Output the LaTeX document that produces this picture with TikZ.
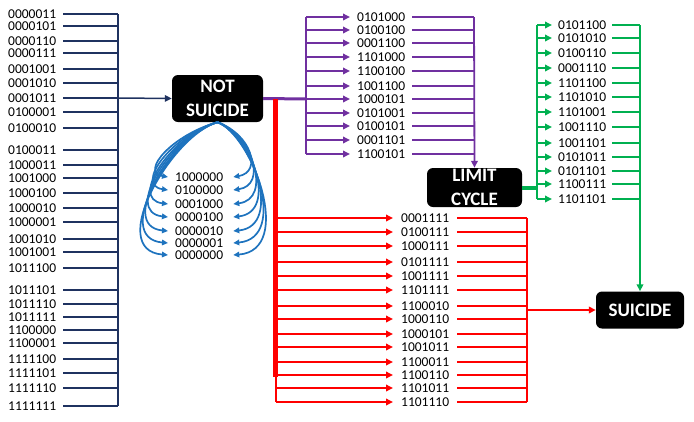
\documentclass[tikz,border=0pt]{standalone}
\usepackage{fontspec}
\setmainfont{Carlito}
\usetikzlibrary{arrows.meta,calc}
\definecolor{navyc}{RGB}{31,50,96}
\definecolor{purplec}{RGB}{112,48,160}
\definecolor{redc}{RGB}{255,0,0}
\definecolor{greenc}{RGB}{0,176,80}
\definecolor{bluec}{RGB}{30,115,190}
\begin{document}
\begin{tikzpicture}[x=1pt,y=-1pt,
  lab/.style={inner sep=0pt, anchor=west, font=\fontsize{13.5}{14}\selectfont},
  box/.style={fill=black, text=white, rounded corners=6pt, align=center, inner sep=0pt,
    font=\fontsize{19}{23.5}\selectfont\bfseries},
  navyline/.style={draw=navyc, line width=1.5pt},
  purpleline/.style={draw=purplec, line width=1.8pt},
  redline/.style={draw=redc, line width=2pt},
  greenline/.style={draw=greenc, line width=2.2pt},
  tip/.style={-{Triangle[length=7pt,width=6.5pt]}},
  bluearr/.style={draw=bluec, line width=1.7pt, -{Triangle[length=6pt,width=5.5pt]}}]
\useasboundingbox (0,0) rectangle (694,421);

% boxes
\node[box, minimum width=91pt, minimum height=47pt] (ns) at (217.5,98.5) {NOT\\SUICIDE};
\node[box, minimum width=95pt, minimum height=39pt] (lc) at (474.5,187.5) {LIMIT\\CYCLE};
\node[box, minimum width=88pt, minimum height=37pt] (su) at (640,310) {SUICIDE};

% left navy column
\foreach \t/\y [count=\i] in {0000011/14,0000101/26,0000110/41,0000111/53,0001001/69,0001010/83,0001011/98,0100001/112,0100010/128,0100011/150,1000011/165,1001000/178,1000100/193,1000010/208,1000001/222,1001010/239,1001001/252,1011100/268,1011101/290,1011110/304,1011111/317,1100000/330,1100001/343,1111100/359,1111101/373,1111110/388,1111111/406} {
  \node[lab] (L\i) at (8,\y) {\t};
  \coordinate (LB\i) at (118,\y);
  \draw[navyline] ($(L\i.east)+(7,0)$) -- (LB\i);
}
\draw[navyline] (LB1) -- (LB27);
\draw[navyline, tip] (LB7) -- (ns.west);

% blue self loops
\foreach \t/\y [count=\i from 0] in {1000000/177,0100000/190,0001000/204,0000100/217,0000010/231,0000001/243,0000000/255} {
  \node[lab] (B\i) at (175,\y) {\t};
  \pgfmathsetmacro\xl{140-\i*35/6}
  \pgfmathsetmacro\xr{262+\i*33/6}
  \draw[bluearr] (ns.south) .. controls (172,135) and (\xl,\y-5) .. ($(B\i.west)+(-7,0)$);
  \draw[bluearr] (ns.south) .. controls (252,135) and (\xr,\y-5) .. ($(B\i.east)+(10,0)$);
}

% purple branch
\coordinate (pj) at (306,99);
\draw[draw=purplec, line width=3pt] (ns.east) -- (pj);
\foreach \t/\y [count=\i] in {0101000/17,0100100/30,0001100/43,1101000/57,1100100/71,1001100/86,1000101/99,0101001/113,0100101/126,0001101/140,1100101/154} {
  \node[lab] (P\i) at (357,\y) {\t};
  \coordinate (PA\i) at (306,\y);
  \coordinate (PB\i) at (474,\y);
  \draw[purpleline, tip] (PA\i) -- ($(P\i.west)+(-7,0)$);
  \draw[purpleline] ($(P\i.east)+(7,0)$) -- (PB\i);
}
\draw[purpleline] (PA1) -- (PA11);
\draw[purpleline, tip] (PB1) -- (lc.north);

% red branch
\coordinate (rtop) at (275.5,99);
\coordinate (rmid) at (275.5,377);
\coordinate (rbot) at (275.5,402);
\draw[draw=redc, line width=4.5pt] (rtop) -- (rmid);
\draw[redline] (rmid) -- (rbot);
\foreach \t/\y [count=\i] in {0001111/218,0100111/232,1000111/246,0101111/262,1001111/276,1101111/290,1100010/306,1000110/319,1000101/334,1001011/347,1100011/362,1100110/375,1101011/388,1101110/402} {
  \node[lab] (R\i) at (401,\y) {\t};
  \coordinate (RA\i) at (275.5,\y);
  \coordinate (RB\i) at (527,\y);
  \draw[redline, tip] (RA\i) -- ($(R\i.west)+(-8,0)$);
  \draw[redline] ($(R\i.east)+(8,0)$) -- (RB\i);
}
\draw[redline] (RB1) -- (RB14);
\coordinate (rj) at (527,310);
\draw[redline, line width=2.5pt, tip] (rj) -- (su.west);

% green branch
\coordinate (gj) at (537,188);
\draw[draw=greenc, line width=3.5pt] (lc.east |- gj) -- (gj);
\foreach \t/\y [count=\i] in {0101100/25,0101010/38,0100110/53,0001110/68,1101100/83,1101010/97,1101001/112,1001110/127,1001101/143,0101011/157,0101101/171,1100111/184,1101101/199} {
  \node[lab] (G\i) at (558,\y) {\t};
  \coordinate (GA\i) at (537,\y);
  \coordinate (GB\i) at (640,\y);
  \draw[greenline, tip] (GA\i) -- ($(G\i.west)+(-6,0)$);
  \draw[greenline] ($(G\i.east)+(6,0)$) -- (GB\i);
}
\draw[draw=greenc, line width=2.8pt] (GA1) -- (GA13);
\draw[greenline, tip] (GB1) -- (su.north);
\end{tikzpicture}
\end{document}
